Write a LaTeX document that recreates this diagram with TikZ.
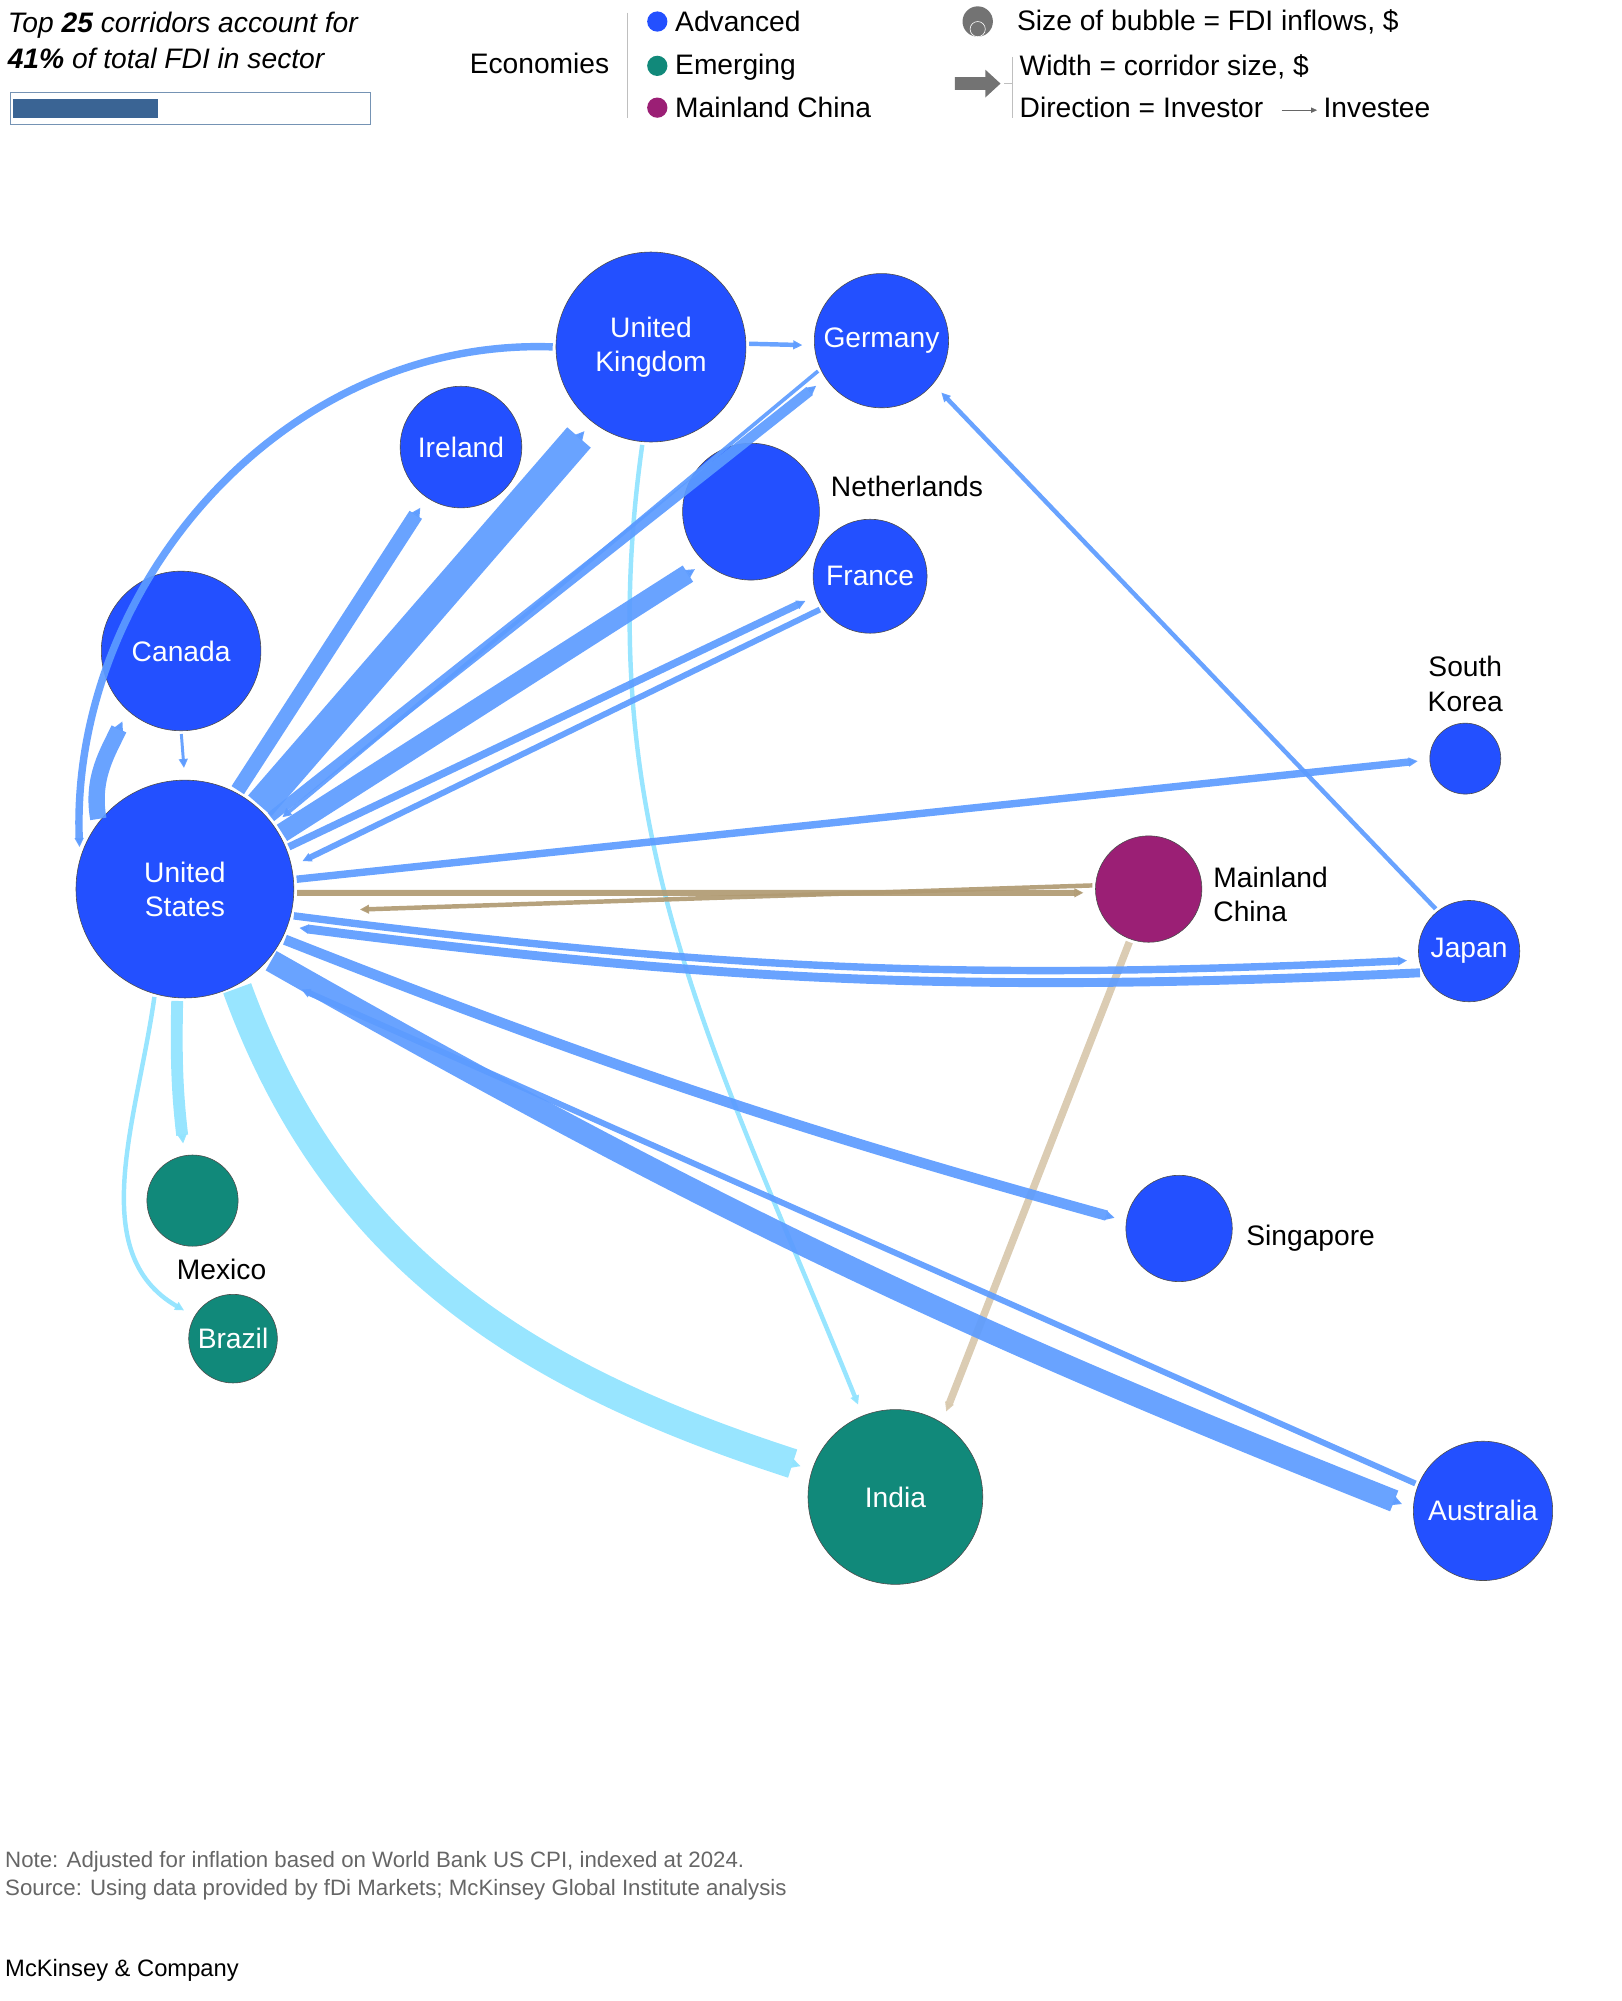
\documentclass[tikz,border=0pt]{standalone}
\usepackage{fontspec}
\setmainfont{Liberation Sans}
\usetikzlibrary{arrows.meta, positioning}
\definecolor{advblue}{RGB}{35,80,255}
\definecolor{emteal}{RGB}{17,137,122}
\definecolor{chinapurple}{RGB}{155,31,117}
\definecolor{flowblue}{RGB}{92,155,255}
\definecolor{flowcyan}{RGB}{143,227,255}
\definecolor{flowtan}{RGB}{176,154,114}
\definecolor{flowsand}{RGB}{216,200,172}
\definecolor{barblue}{RGB}{58,100,148}

\begin{document}
\begin{tikzpicture}[
    x=0.03cm, y=-0.03cm,
    font=\fontsize{19}{23}\selectfont,
    bub/.style={circle, draw=black!70, thin, inner sep=0pt, text=white, align=center},
    adv/.style={bub, fill=advblue},
    emg/.style={bub, fill=emteal},
    flow/.style={-{Triangle[length=4.5pt+1.6, width=4pt+1.8]}, draw=flowblue, shorten >=8pt, shorten <=2pt},
    lbl/.style={align=left, anchor=west}
]
    \useasboundingbox (0,0) rectangle (1280,1580);

    % Legend
    \node[lbl, font=\fontsize{19}{24}\selectfont\itshape] (head) at (2,32) {Top \textbf{25} corridors account for\\\textbf{41\%} of total FDI in sector};
    \draw[barblue!70] (8,73) rectangle (292,98);
    \fill[barblue] (10,78) rectangle (125,93);
    \node (econ) at (426,50) {Economies};
    \draw[black!25] (495,10) -- (495,93);
    \fill[advblue] (519,17) circle (8);
    \fill[emteal] (519,52) circle (8);
    \fill[chinapurple] (519,85) circle (8);
    \node[lbl] (ladv) at (529,17) {Advanced};
    \node[lbl] (lemg) at (529,53) {Emerging};
    \node[lbl] (lchn) at (529,85) {Mainland China};
    \fill[black!55] (772,17) circle (12);
    \draw[white, thin] (772,23) circle (6);
    \node[lbl] (lsize) at (799,17) {Size of bubble = FDI inflows, \$};
    \fill[black!55] (754,61) -- (778,61) -- (778,55) -- (790,66) -- (778,77) -- (778,71) -- (754,71) -- cycle;
    \draw[black!25] (799,45) -- (799,93) (793,66) -- (799,66);
    \node[lbl] (lwidth) at (801,53) {Width = corridor size, \$};
    \node[lbl] (ldir) at (801,85) {Direction = Investor};
    \draw[black!60, -{Triangle[length=4pt, width=3.5pt]}] (1012,87) -- (1040,87);
    \node[lbl] (linv) at (1041,85) {Investee};

    % Bubbles
    \node[adv, minimum size=150*0.03cm] (UK) at (514,274) {United\\Kingdom};
    \node[adv, minimum size=106*0.03cm] (DE) at (696,269) {Germany};
    \node[adv, minimum size=96*0.03cm] (IE) at (364,353) {Ireland};
    \node[adv, minimum size=108*0.03cm] (NL) at (593,404) {};
    \node[adv, minimum size=90*0.03cm] (FR) at (687,455) {France};
    \node[adv, minimum size=126*0.03cm] (CA) at (143,514) {Canada};
    \node[adv, minimum size=56*0.03cm] (KR) at (1157,599) {};
    \node[adv, minimum size=172*0.03cm] (US) at (146,702) {United\\States};
    \node[bub, fill=chinapurple, minimum size=84*0.03cm] (CN) at (907,702) {};
    \node[adv, minimum size=80*0.03cm] (JP) at (1160,751) {Japan};
    \node[adv, minimum size=84*0.03cm] (SG) at (931,970) {};
    \node[emg, minimum size=72*0.03cm] (MX) at (152,948) {};
    \node[emg, minimum size=70*0.03cm] (BR) at (184,1057) {Brazil};
    \node[emg, minimum size=138*0.03cm] (IN) at (707,1182) {India};
    \node[adv, minimum size=110*0.03cm] (AU) at (1171,1193) {Australia};

    % Outside labels
    \node[lbl] (tNL) at (652,384) {Netherlands};
    \node[align=center] (tKR) at (1157,540) {South\\Korea};
    \node[lbl] (tCN) at (954,706) {Mainland\\China};
    \node[lbl] (tSG) at (980,978) {Singapore};
    \node (tMX) at (175,1002) {Mexico};

    % Corridors
    \begin{scope}[opacity=0.92]
    \draw[flow, line width=20pt, draw=flowcyan] (US.-62) to[out=-70, in=162] (IN.162);
    \draw[flow, line width=3pt, draw=flowcyan] (UK.-95) to[out=-98, in=112] (IN.112);
    \draw[flow, line width=3pt, draw=flowcyan] (US.-106) to[out=-98, in=150] (BR.150);
    \draw[flow, line width=8pt, draw=flowcyan] (US.-94) to[bend right=4] (MX.100);
    \draw[flow, line width=5pt, draw=flowsand] (CN.-110) -- (IN.58);
    \draw[flow, line width=5pt] (UK.west) to[out=178, in=92] (US.164);
    \draw[flow, line width=3pt] (UK.2) -- (DE.184);
    \draw[flow, line width=10pt] (US.62) -- (IE.236);
    \draw[flow, line width=21pt] (US.48) -- (UK.232);
    \draw[flow, line width=7pt] (US.40) -- (DE.214);
    \draw[flow, line width=2.5pt] (DE.205) -- (US.36);
    \draw[flow, line width=13pt] (US.30) -- (NL.228);
    \draw[flow, line width=5pt] (US.22) -- (FR.200);
    \draw[flow, line width=4pt] (FR.214) -- (US.12);
    \draw[flow, line width=5pt] (US.5) -- (KR.182);
    \draw[flow, line width=4pt, draw=flowtan] (US.-2) -- (CN.184);
    \draw[flow, line width=3pt, draw=flowtan, shorten >=46pt] (CN.176) -- (US.-12);
    \draw[flow, line width=5pt] (US.-14) to[bend right=5] (JP.190);
    \draw[flow, line width=6pt] (JP.205) to[bend left=5] (US.-20);
    \draw[flow, line width=3pt] (JP.128) -- (DE.-40);
    \draw[flow, line width=2pt] (CA.south) -- (US.north);
    \draw[flow, line width=11pt] (US.142) to[out=100, in=245] (CA.228);
    \draw[flow, line width=7pt] (US.-27) to[bend right=3] (SG.172);
    \draw[flow, line width=15pt] (US.-40) to[bend right=4] (AU.178);
    \draw[flow, line width=4pt, shorten >=32pt] (AU.158) -- (US.-48);
    \end{scope}

    % Notes
    \node[lbl, text=black!60, font=\fontsize{15}{19}\selectfont] (note) at (0,1481) {Note: Adjusted for inflation based on World Bank US CPI, indexed at 2024.\\Source: Using data provided by fDi Markets; McKinsey Global Institute analysis};
    \node[lbl, font=\fontsize{16}{19}\selectfont] (brand) at (0,1556) {McKinsey \& Company};
\end{tikzpicture}
\end{document}
